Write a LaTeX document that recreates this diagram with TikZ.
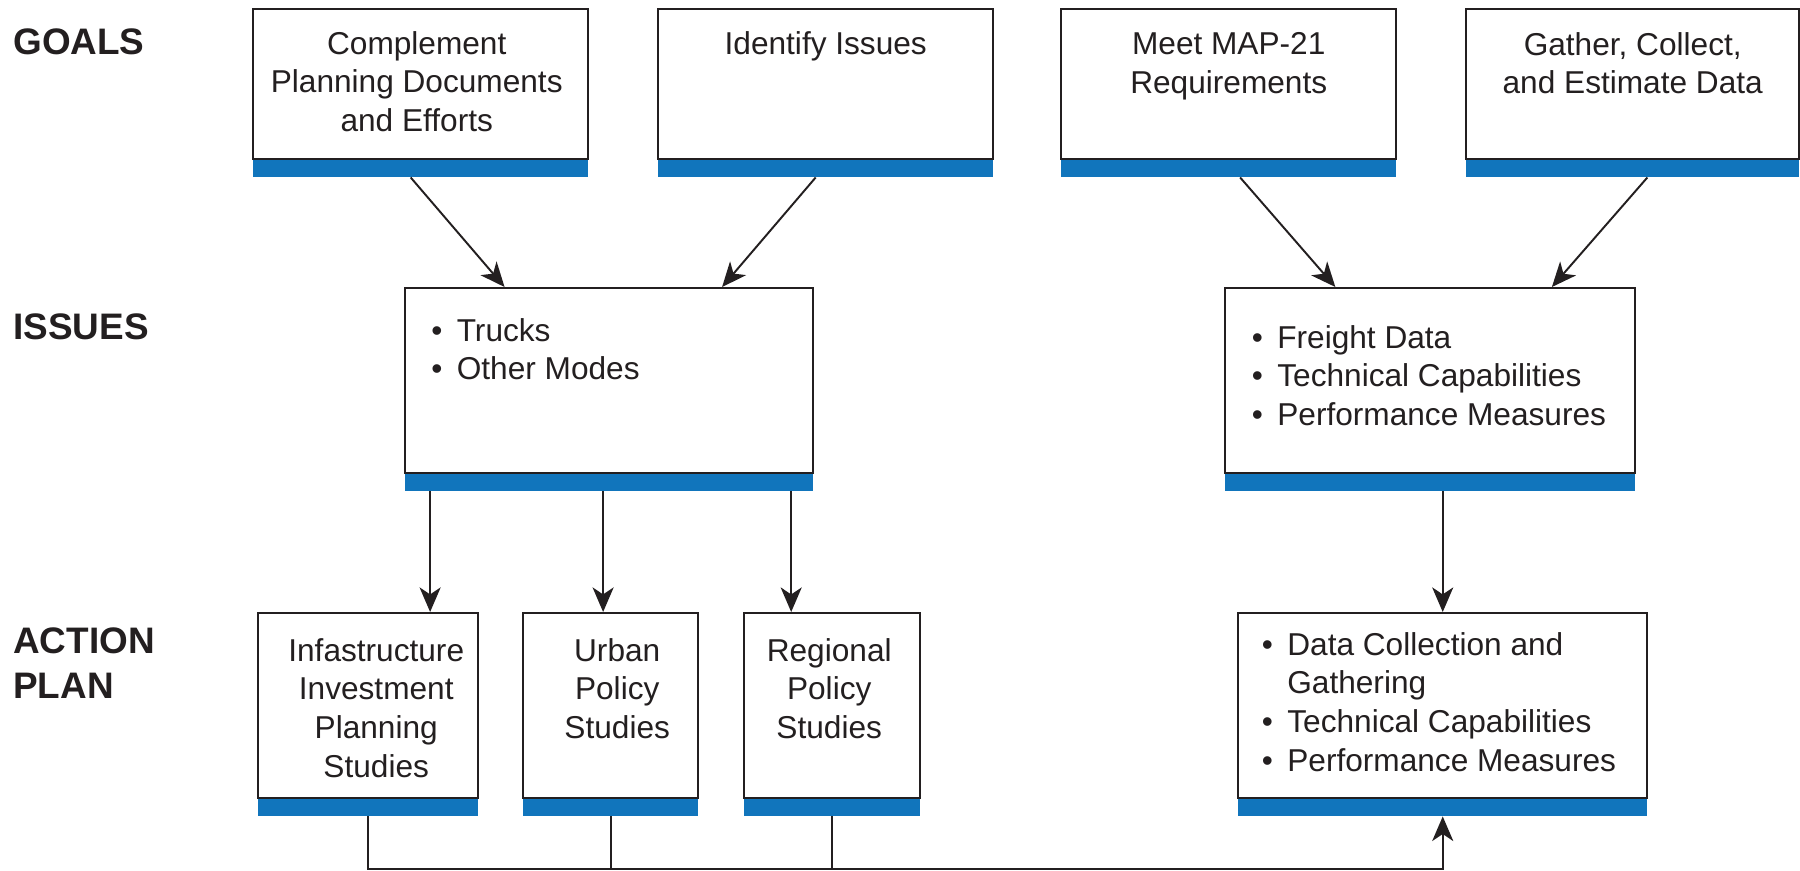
\documentclass[tikz,border=0pt]{standalone}
\usepackage{fontspec}
\setmainfont{Liberation Sans}
\usetikzlibrary{arrows.meta,calc,positioning}
\definecolor{barblue}{RGB}{17,117,188}
\definecolor{boxline}{RGB}{35,31,32}
\newcommand{\bitem}[1]{\makebox[0.51cm][l]{\textbullet}#1}

\tikzset{
  box/.style={draw=boxline,line width=1.4pt,fill=white,anchor=north west,inner sep=0pt},
  bar/.style={fill=barblue,inner sep=0pt,outer sep=0pt,anchor=north,minimum height=0.34cm},
  boxtext/.style={anchor=north,align=center,inner sep=0pt,text=boxline,font=\fontsize{18}{22}\selectfont},
  listtext/.style={anchor=north west,align=left,inner sep=0pt,text=boxline,font=\fontsize{18}{22}\selectfont},
  rowlabel/.style={anchor=north west,align=left,inner sep=0pt,text=boxline,font=\fontsize{21}{25.6}\selectfont\bfseries},
  arr/.style={-{Stealth[length=14pt,width=12pt,inset=4pt]},line width=1.1pt,draw=boxline},
  link/.style={line width=1.1pt,draw=boxline},
}

\begin{document}
\begin{tikzpicture}[x=0.02cm,y=-0.02cm]
  \useasboundingbox (0,0) rectangle (1800,871);

  % row labels
  \node[rowlabel] (goals) at (13,28) {GOALS};
  \node[rowlabel] (issues) at (13,313) {ISSUES};
  \node[rowlabel] (action) at (13,627) {ACTION\\PLAN};

  % boxes with their blue bars
  \foreach \n/\x/\y/\w/\h in {g1/252/8/335/150, g2/657/8/335/150, g3/1060/8/335/150, g4/1465/8/333/150,
      i1/404/287/408/185, i2/1224/287/410/185,
      a1/257/612/220/185, a2/522/612/175/185, a3/743/612/176/185, a4/1237/612/409/185}{
    \node[box,minimum width=\w*0.02cm,minimum height=\h*0.02cm] (\n) at (\x,\y) {};
    \node[bar,minimum width=\w*0.02cm] (b\n) at (\n.south) {};
  }

  % goals
  \node[boxtext,below=0.46cm of g1.north,xshift=-0.08cm] (tg1) {Complement\\Planning Documents\\and Efforts};
  \node[boxtext,below=0.46cm of g2.north] (tg2) {Identify Issues};
  \node[boxtext,below=0.48cm of g3.north] (tg3) {Meet MAP-21\\Requirements};
  \node[boxtext,below=0.48cm of g4.north] (tg4) {Gather, Collect,\\and Estimate Data};

  % issues
  \node[listtext,below right=0.62cm and 0.54cm of i1.north west] (ti1) {\bitem{Trucks}\\\bitem{Other Modes}};
  \node[listtext,below right=0.76cm and 0.55cm of i2.north west] (ti2)
    {\bitem{Freight Data}\\\bitem{Technical Capabilities}\\\bitem{Performance Measures}};

  % action plan
  \node[boxtext,below=0.52cm of a1.north,xshift=0.16cm] (ta1) {Infastructure\\Investment\\Planning\\Studies};
  \node[boxtext,below=0.52cm of a2.north,xshift=0.13cm] (ta2) {Urban\\Policy\\Studies};
  \node[boxtext,below=0.52cm of a3.north,xshift=-0.06cm] (ta3) {Regional\\Policy\\Studies};
  \node[listtext,below right=0.4cm and 0.49cm of a4.north west] (ta4)
    {\bitem{Data Collection and}\\\hspace*{0.51cm}Gathering\\\bitem{Technical Capabilities}\\\bitem{Performance Measures}};

  % goals to issues
  \draw[arr] ($(bg1.south west)!.47!(bg1.south east)$) -- ($(i1.north west)!.245!(i1.north east)$);
  \draw[arr] ($(bg2.south west)!.47!(bg2.south east)$) -- ($(i1.north west)!.775!(i1.north east)$);
  \draw[arr] ($(bg3.south west)!.534!(bg3.south east)$) -- ($(i2.north west)!.27!(i2.north east)$);
  \draw[arr] ($(bg4.south west)!.544!(bg4.south east)$) -- ($(i2.north west)!.795!(i2.north east)$);

  % issues to action plan
  \draw[arr] ($(bi1.south west)!.061!(bi1.south east)$) coordinate (d1) -- (d1 |- a1.north);
  \draw[arr] ($(bi1.south west)!.485!(bi1.south east)$) coordinate (d2) -- (d2 |- a2.north);
  \draw[arr] ($(bi1.south west)!.946!(bi1.south east)$) coordinate (d3) -- (d3 |- a3.north);
  \draw[arr] (a4.north |- bi2.south) -- (a4.north);

  % studies feed the data plan
  \coordinate (bus) at (0,869);
  \draw[link] (ba2.south) -- (ba2.south |- bus);
  \draw[link] (ba3.south) -- (ba3.south |- bus);
  \draw[arr] (ba1.south) -- (ba1.south |- bus) -- (ba4.south |- bus) -- (ba4.south);
\end{tikzpicture}
\end{document}
